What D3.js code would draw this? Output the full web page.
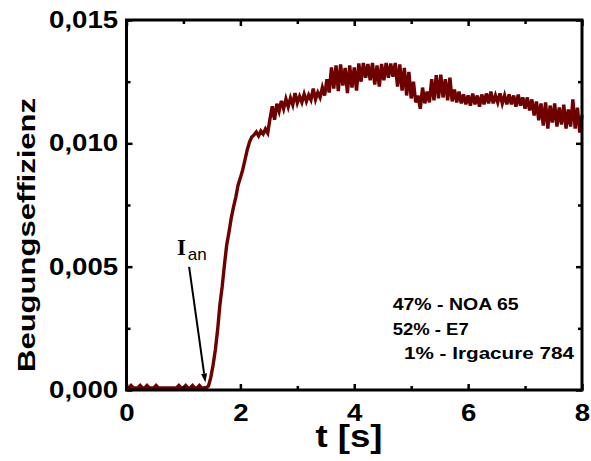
<!DOCTYPE html>
<html>
<head>
<meta charset="utf-8">
<script src="https://cdn.jsdelivr.net/npm/d3@7"></script>
<style>
  html, body { margin: 0; padding: 0; background: #fff; }
  svg { display: block; }
  text { font-family: "Liberation Sans", Arial, sans-serif; }
</style>
</head>
<body>
<svg id="chart" width="591" height="461"></svg>
<script>
// Beugungseffizienz over time, sampled every 0.04 s from 0 to 8 s
const sampleStep = 0.04;
const efficiency = [
  // 0.00 – 1.40 s: baseline before exposure
  0.00008, 0.00008, 0.00018, 0.00008, 0.00008, 0.00008, 0.00018, 0.00008, 0.00008, 0.00018,
  0.00008, 0.00008, 0.00008, 0.00018, 0.00008, 0.00008, 0.00008, 0.00008, 0.00008, 0.00008,
  0.00008, 0.00008, 0.00008, 0.00018, 0.00008, 0.00008, 0.00018, 0.00008, 0.00008, 0.00018,
  0.00008, 0.00008, 0.00018, 0.00008, 0.00008, 0.00010,
  // 1.44 – 2.40 s: rise
  0.00016, 0.00050, 0.00100, 0.00162, 0.00243, 0.00345, 0.00418, 0.00507, 0.00588, 0.00640,
  0.00697, 0.00742, 0.00782, 0.00831, 0.00860, 0.00892, 0.00932, 0.00973, 0.01005, 0.01026,
  0.01034, 0.01046, 0.01030, 0.01050, 0.01038,
  // 2.44 – 3.40 s
  0.01058, 0.01042, 0.01100, 0.01150, 0.01096, 0.01160, 0.01130, 0.01172, 0.01140, 0.01180,
  0.01148, 0.01184, 0.01156, 0.01204, 0.01164, 0.01190, 0.01166, 0.01200, 0.01170, 0.01196,
  0.01176, 0.01222, 0.01178, 0.01206, 0.01186,
  // 3.44 – 4.40 s
  0.01226, 0.01194, 0.01260, 0.01206, 0.01308, 0.01222, 0.01316, 0.01212, 0.01320, 0.01234,
  0.01306, 0.01204, 0.01316, 0.01226, 0.01308, 0.01214, 0.01324, 0.01250, 0.01326, 0.01266,
  0.01322, 0.01256, 0.01326, 0.01238, 0.01316,
  // 4.44 – 5.40 s
  0.01230, 0.01322, 0.01256, 0.01326, 0.01266, 0.01324, 0.01270, 0.01326, 0.01230, 0.01320,
  0.01214, 0.01306, 0.01194, 0.01290, 0.01182, 0.01250, 0.01166, 0.01194, 0.01140, 0.01226,
  0.01162, 0.01210, 0.01166, 0.01260, 0.01174,
  // 5.44 – 6.40 s
  0.01276, 0.01182, 0.01278, 0.01186, 0.01260, 0.01174, 0.01266, 0.01170, 0.01218, 0.01166,
  0.01210, 0.01162, 0.01198, 0.01158, 0.01194, 0.01153, 0.01202, 0.01158, 0.01194, 0.01149,
  0.01198, 0.01158, 0.01202, 0.01162, 0.01210,
  // 6.44 – 7.40 s
  0.01162, 0.01194, 0.01166, 0.01202, 0.01162, 0.01194, 0.01158, 0.01198, 0.01158, 0.01194,
  0.01149, 0.01198, 0.01153, 0.01186, 0.01141, 0.01186, 0.01133, 0.01178, 0.01113, 0.01170,
  0.01093, 0.01162, 0.01072, 0.01166, 0.01060,
  // 7.44 – 8.00 s
  0.01153, 0.01084, 0.01162, 0.01068, 0.01145, 0.01076, 0.01157, 0.01060, 0.01137, 0.01068,
  0.01178, 0.01060, 0.01145, 0.01044, 0.01115
];

const xMajorTicks = [0, 2, 4, 6, 8];
const xMinorTicks = [1, 3, 5, 7];
const yMajorTicks = [0, 0.005, 0.010, 0.015];
const yTickLabels = ["0,000", "0,005", "0,010", "0,015"];
const yMinorTicks = [0.0025, 0.0075, 0.0125];

const xTitle = "t [s]";
const yTitle = "Beugungseffizienz";
const compositionLines = ["47% - NOA 65", "52% - E7", "1% - Irgacure 784"];

// onset marker: arrow from label down to the start of the rise
const onsetLabelAt = [0.885, 0.00547];
const onsetArrowFrom = [1.10, 0.00499];
const onsetArrowTo = [1.385, 0.00030];

const svg = d3.select("#chart");
svg.append("rect").attr("width", 591).attr("height", 461).attr("fill", "#fff");

const plotLeft = 126.5, plotRight = 582, plotTop = 20, plotBottom = 390;
const x = d3.scaleLinear().domain([0, 8]).range([plotLeft, plotRight]);
const y = d3.scaleLinear().domain([0, 0.015]).range([plotBottom, plotTop]);

const stretch = 1.2;   // glyphs drawn slightly wide
const lineColor = "#6f0000";

// data line
const points = efficiency.map((v, i) => [i * sampleStep, v]);
svg.append("path")
  .datum(points)
  .attr("fill", "none")
  .attr("stroke", lineColor)
  .attr("stroke-width", 3.4)
  .attr("stroke-linejoin", "miter")
  .attr("d", d3.line().x(d => x(d[0])).y(d => y(d[1])));

// axes with inward ticks
function styleAxis(g) {
  g.select(".domain").remove();
  g.selectAll(".tick line").attr("stroke", "#000").attr("stroke-width", 2.5);
}
function styleLabels(g) {
  g.selectAll(".tick text")
    .attr("font-size", "23px")
    .attr("font-weight", "bold")
    .attr("fill", "#000")
    .attr("font-family", "'Liberation Sans', Arial, sans-serif")
    .attr("transform", `scale(${stretch},1)`);
}

// bottom
svg.append("g").attr("transform", `translate(0,${plotBottom})`)
  .call(d3.axisBottom(x).tickValues(xMajorTicks).tickSizeInner(-6).tickSizeOuter(0)
    .tickPadding(15).tickFormat(d3.format("d")))
  .call(styleAxis).call(styleLabels);
svg.append("g").attr("transform", `translate(0,${plotBottom})`)
  .call(d3.axisBottom(x).tickValues(xMinorTicks).tickSizeInner(-4).tickSizeOuter(0).tickFormat(""))
  .call(styleAxis);
// top
svg.append("g").attr("transform", `translate(0,${plotTop})`)
  .call(d3.axisTop(x).tickValues(xMajorTicks).tickSizeInner(-6).tickSizeOuter(0).tickFormat(""))
  .call(styleAxis);
svg.append("g").attr("transform", `translate(0,${plotTop})`)
  .call(d3.axisTop(x).tickValues(xMinorTicks).tickSizeInner(-4).tickSizeOuter(0).tickFormat(""))
  .call(styleAxis);
// left
svg.append("g").attr("transform", `translate(${plotLeft},0)`)
  .call(d3.axisLeft(y).tickValues(yMajorTicks).tickSizeInner(-6).tickSizeOuter(0)
    .tickPadding(7).tickFormat((d, i) => yTickLabels[i]))
  .call(styleAxis).call(styleLabels);
svg.append("g").attr("transform", `translate(${plotLeft},0)`)
  .call(d3.axisLeft(y).tickValues(yMinorTicks).tickSizeInner(-4).tickSizeOuter(0).tickFormat(""))
  .call(styleAxis);
// right
svg.append("g").attr("transform", `translate(${plotRight},0)`)
  .call(d3.axisRight(y).tickValues(yMajorTicks).tickSizeInner(-6).tickSizeOuter(0).tickFormat(""))
  .call(styleAxis);
svg.append("g").attr("transform", `translate(${plotRight},0)`)
  .call(d3.axisRight(y).tickValues(yMinorTicks).tickSizeInner(-4).tickSizeOuter(0).tickFormat(""))
  .call(styleAxis);

// frame
svg.append("rect")
  .attr("x", plotLeft).attr("y", plotTop)
  .attr("width", plotRight - plotLeft).attr("height", plotBottom - plotTop)
  .attr("fill", "none").attr("stroke", "#000").attr("stroke-width", 3);

// axis titles
svg.append("text")
  .attr("transform", `translate(349,447) scale(${stretch},1)`)
  .attr("text-anchor", "middle")
  .attr("font-size", "30.5px").attr("font-weight", "bold")
  .text(xTitle);

svg.append("text")
  .attr("transform", "translate(34.5,235) rotate(-90)")
  .attr("text-anchor", "middle")
  .attr("font-size", "24.5px").attr("font-weight", "bold")
  .attr("textLength", 274).attr("lengthAdjust", "spacingAndGlyphs")
  .text(yTitle);

// composition note
const noteX = [392.7, 392.7, 404];
const noteWidths = [126, 76, 170];
compositionLines.forEach((s, i) => {
  svg.append("text")
    .attr("x", noteX[i]).attr("y", 310 + i * 24.5)
    .attr("font-size", "16.5px").attr("font-weight", "bold")
    .attr("textLength", noteWidths[i]).attr("lengthAdjust", "spacingAndGlyphs")
    .text(s);
});

// onset label I_an
const lbl = svg.append("text")
  .attr("x", x(onsetLabelAt[0])).attr("y", y(onsetLabelAt[1]));
lbl.append("tspan")
  .attr("font-family", "'Liberation Serif', 'Times New Roman', serif")
  .attr("font-weight", "bold").attr("font-size", "23px")
  .text("I");
lbl.append("tspan")
  .attr("font-size", "17px").attr("dy", 4.5).attr("dx", 2)
  .text("an");

// arrow
const ax0 = x(onsetArrowFrom[0]), ay0 = y(onsetArrowFrom[1]);
const ax1 = x(onsetArrowTo[0]), ay1 = y(onsetArrowTo[1]);
const ang = Math.atan2(ay1 - ay0, ax1 - ax0);
const headLen = 9, headHalf = 3;
const bx = ax1 - headLen * Math.cos(ang), by = ay1 - headLen * Math.sin(ang);
svg.append("line")
  .attr("x1", ax0).attr("y1", ay0).attr("x2", bx).attr("y2", by)
  .attr("stroke", "#000").attr("stroke-width", 2);
svg.append("path")
  .attr("d", `M${ax1},${ay1}L${bx + headHalf * Math.sin(ang)},${by - headHalf * Math.cos(ang)}L${bx - headHalf * Math.sin(ang)},${by + headHalf * Math.cos(ang)}Z`)
  .attr("fill", "#000");
</script>
</body>
</html>
